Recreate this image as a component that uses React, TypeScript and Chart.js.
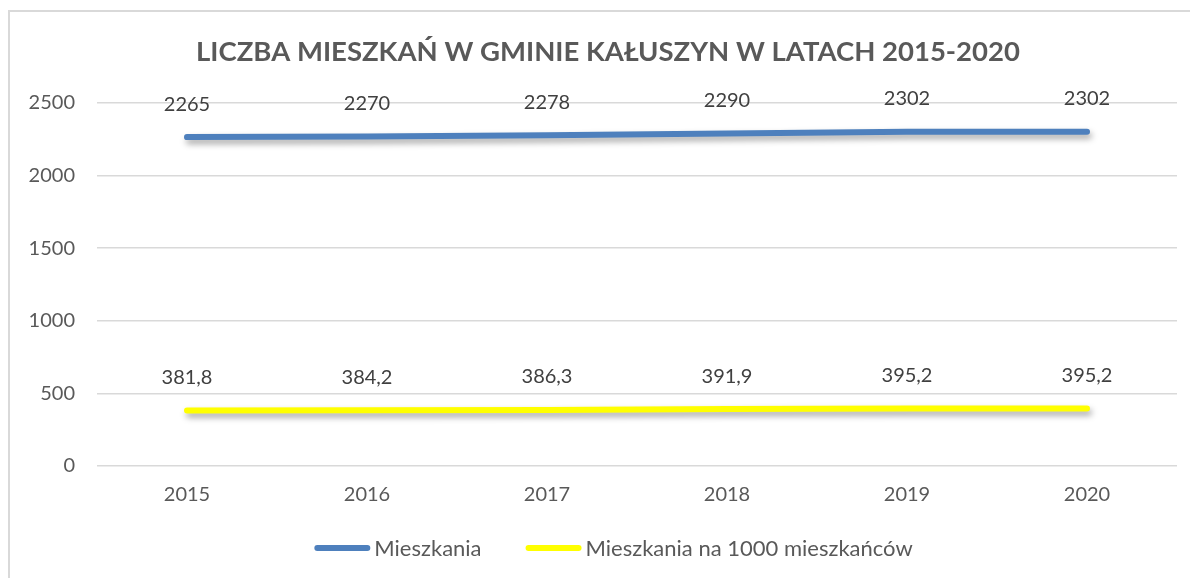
import React, { useEffect, useRef } from "react";
import { Chart, registerables } from "chart.js";

Chart.register(...registerables);

const TITLE = "LICZBA MIESZKAŃ W GMINIE KAŁUSZYN W LATACH 2015-2020";
const years = ["2015", "2016", "2017", "2018", "2019", "2020"];
const mieszkania = [2265, 2270, 2278, 2290, 2302, 2302];
const naTysiac = [381.8, 384.2, 386.3, 391.9, 395.2, 395.2];
const seriesNames = ["Mieszkania", "Mieszkania na 1000 mieszkańców"];
const seriesDecimals = [0, 1];
const yMin = 0;
const yMax = 2500;
const yStep = 500;

const FONT = "Lato, 'Open Sans', sans-serif";
const TEXT = "#595959";

const fmt = (v: number, d: number) => v.toFixed(d).replace(".", ",");

const shadowPlugin = {
  id: "lineShadow",
  beforeDatasetDraw(chart: any) {
    const ctx = chart.ctx;
    ctx.save();
    ctx.shadowColor = "rgba(0,0,0,0.35)";
    ctx.shadowBlur = 6;
    ctx.shadowOffsetX = 2;
    ctx.shadowOffsetY = 4;
  },
  afterDatasetDraw(chart: any) {
    chart.ctx.restore();
  },
};

const labelsPlugin = {
  id: "valueLabels",
  afterDatasetsDraw(chart: any) {
    const ctx = chart.ctx;
    ctx.save();
    ctx.font = `20px ${FONT}`;
    ctx.fillStyle = "#404040";
    ctx.textAlign = "center";
    ctx.textBaseline = "middle";
    chart.data.datasets.forEach((ds: any, i: number) => {
      const meta = chart.getDatasetMeta(i);
      meta.data.forEach((pt: any, j: number) => {
        ctx.fillText(fmt(ds.data[j], seriesDecimals[i]), pt.x, pt.y - 33);
      });
    });
    ctx.restore();
  },
};

const titleLegendPlugin = {
  id: "titleLegend",
  afterDraw(chart: any) {
    const ctx = chart.ctx;
    ctx.save();
    ctx.fillStyle = TEXT;
    ctx.textAlign = "center";
    ctx.textBaseline = "middle";
    ctx.font = `bold 27.5px ${FONT}`;
    ctx.fillText(TITLE, chart.width / 2 - 2, 40);

    ctx.font = `22px ${FONT}`;
    const sample = 56;
    const gapText = 4;
    const gapItem = 44;
    const items = chart.data.datasets.map((ds: any) => ({
      ds,
      w: sample + gapText + ctx.measureText(ds.label).width,
    }));
    const total = items.reduce((a: number, it: any) => a + it.w, 0) + gapItem * (items.length - 1);
    let x = chart.width / 2 + 3.5 - total / 2;
    const y = 536;
    items.forEach((it: any) => {
      ctx.strokeStyle = it.ds.borderColor;
      ctx.lineWidth = 6;
      ctx.lineCap = "round";
      ctx.beginPath();
      ctx.moveTo(x + 3, y);
      ctx.lineTo(x + sample - 3, y);
      ctx.stroke();
      ctx.textAlign = "left";
      ctx.fillStyle = TEXT;
      ctx.fillText(it.ds.label, x + sample + gapText, y + 1);
      x += it.w + gapItem;
    });
    ctx.restore();
  },
};

export default function App() {
  const ref = useRef<HTMLCanvasElement | null>(null);
  useEffect(() => {
    if (!ref.current) return;
    const chart = new Chart(ref.current, {
      type: "line",
      data: {
        labels: years,
        datasets: [
          {
            label: seriesNames[0],
            data: mieszkania,
            borderColor: "#4E80BD",
            backgroundColor: "#4E80BD",
            borderWidth: 6,
            borderCapStyle: "round",
            borderJoinStyle: "round",
            pointRadius: 0,
            tension: 0,
          },
          {
            label: seriesNames[1],
            data: naTysiac,
            borderColor: "#FFFF00",
            backgroundColor: "#FFFF00",
            borderWidth: 6,
            borderCapStyle: "round",
            borderJoinStyle: "round",
            pointRadius: 0,
            tension: 0,
          },
        ],
      },
      options: {
        responsive: false,
        animation: false,
        devicePixelRatio: 1,
        layout: { padding: { top: 91, right: 33, left: 0, bottom: 0 } },
        plugins: {
          legend: { display: false },
          title: { display: false },
          tooltip: { enabled: false },
        },
        scales: {
          x: {
            offset: true,
            grid: { display: false, drawTicks: false },
            border: { display: false },
            ticks: { color: TEXT, font: { family: FONT, size: 20 }, padding: 17, maxRotation: 0 },
            afterFit(scale: any) {
              scale.height = 112;
            },
          },
          y: {
            min: yMin,
            max: yMax,
            ticks: {
              stepSize: yStep,
              color: TEXT,
              font: { family: FONT, size: 20 },
              padding: 22,
              callback: (v: any) => String(v),
            },
            grid: { color: "#d9d9d9", lineWidth: 1.5, drawTicks: false },
            border: { display: false },
            afterFit(scale: any) {
              scale.width = 87;
            },
          },
        },
      },
      plugins: [shadowPlugin, labelsPlugin, titleLegendPlugin],
    } as any);
    return () => chart.destroy();
  }, []);

  return (
    <div
      style={{
        position: "absolute",
        left: 8,
        top: 10,
        width: 1182,
        height: 568,
        borderLeft: "2px solid #d9d9d9",
        borderTop: "2px solid #d9d9d9",
        overflow: "hidden",
        boxSizing: "border-box",
        background: "#fff",
      }}
    >
      <canvas ref={ref} width={1200} height={566} style={{ width: 1200, height: 566, display: "block" }} />
    </div>
  );
}
